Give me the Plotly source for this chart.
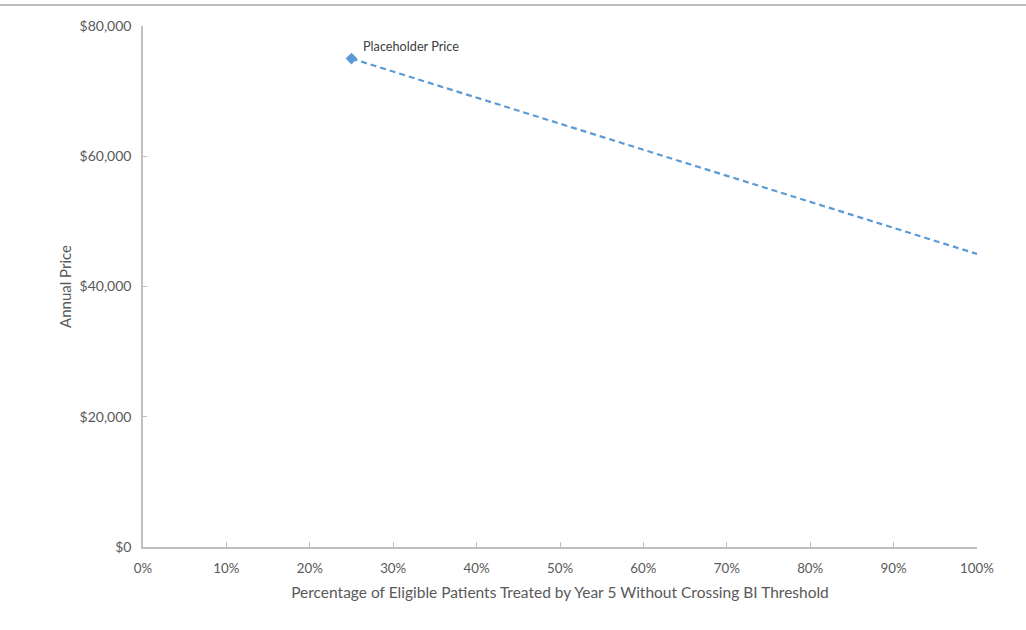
import plotly.graph_objects as go

# Price curve: share of eligible patients treated vs. annual price
share_treated = [0.25, 1.00]
annual_price = [75000, 45000]
point_label = "Placeholder Price"

x_ticks = [i / 10 for i in range(11)]
x_tick_text = ["0%", "10%", "20%", "30%", "40%", "50%", "60%", "70%", "80%", "90%", "100%"]
y_ticks = [0, 20000, 40000, 60000, 80000]
y_tick_text = ["$0", "$20,000", "$40,000", "$60,000", "$80,000"]

FONT = "Lato, Calibri, Carlito, sans-serif"
GRAY = "#595959"
AXIS = "#bfbfbf"
BLUE = "#5b9bd5"

fig = go.Figure()

fig.add_trace(go.Scatter(
    x=share_treated, y=annual_price,
    mode="lines",
    line=dict(color=BLUE, width=2.2, dash="6px,4px"),
    hoverinfo="skip", showlegend=False,
))
fig.add_trace(go.Scatter(
    x=share_treated[:1], y=annual_price[:1],
    mode="markers",
    marker=dict(symbol="diamond", size=9, color=BLUE),
    showlegend=False,
))

fig.add_annotation(
    x=share_treated[0], y=annual_price[0],
    text=point_label, showarrow=False,
    xanchor="left", yanchor="bottom", xshift=9, yshift=3,
    font=dict(family=FONT, size=12.7, color="#404040"),
)

# thin rule across the top of the page
fig.add_shape(
    type="line", xref="paper", yref="paper",
    x0=-143 / 834, x1=(1026 - 143) / 834,
    y0=(547 - 5) / 521, y1=(547 - 5) / 521,
    line=dict(color="#a6a6a6", width=1.5),
)

fig.update_layout(
    width=1026, height=630,
    margin=dict(l=143, r=49, t=26, b=83),
    paper_bgcolor="white", plot_bgcolor="white",
    font=dict(family=FONT, size=13, color=GRAY),
    xaxis=dict(
        range=[0, 1], tickvals=x_ticks, ticktext=x_tick_text,
        showgrid=False, zeroline=False,
        showline=True, linecolor=AXIS, linewidth=1.5,
        ticks="inside", ticklen=5, tickcolor=AXIS,
        ticklabelstandoff=8,
        tickfont=dict(family=FONT, size=13.3, color=GRAY),
        title=dict(
            text="Percentage of Eligible Patients Treated by Year 5 Without Crossing BI Threshold",
            font=dict(family=FONT, size=15.5, color=GRAY), standoff=12,
        ),
    ),
    yaxis=dict(
        range=[0, 80000], tickvals=y_ticks, ticktext=y_tick_text,
        showgrid=False, zeroline=False,
        showline=True, linecolor=AXIS, linewidth=1.5,
        ticks="inside", ticklen=4, tickcolor=AXIS,
        ticklabelstandoff=7,
        tickfont=dict(family=FONT, size=14, color=GRAY),
        title=dict(text="Annual Price", font=dict(family=FONT, size=15, color=GRAY), standoff=4),
    ),
)

fig.write_html("out.html")
